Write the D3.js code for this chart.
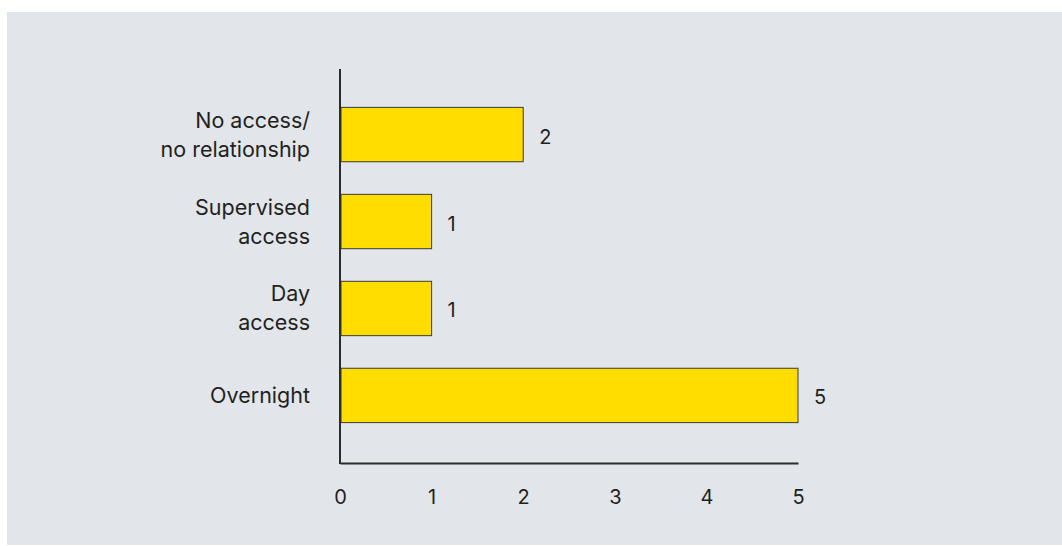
<!DOCTYPE html>
<html>
<head>
<meta charset="utf-8">
<script src="https://cdn.jsdelivr.net/npm/d3@7"></script>
<style>
  body { margin: 0; background: #ffffff; }
  svg text { font-family: "Inter", "Noto Sans", sans-serif; fill: #231f20; }
</style>
</head>
<body>
<div id="chart"></div>
<script>
// data
var categories = [["No access/", "no relationship"], ["Supervised", "access"], ["Day", "access"], ["Overnight"]];
var counts = [2, 1, 1, 5];
var xTicks = [0, 1, 2, 3, 4, 5];

var width = 1062,
    height = 546;

var margin = {
    top: 90,
    bottom: 83,
    left: 340,
    right: 264
}

var svg = d3.select('#chart')
    .append('svg')
    .attr('width', width)
    .attr('height', height);

// grey panel behind the chart
svg.append('rect')
    .attr('x', 7)
    .attr('y', 12)
    .attr('width', width - 7)
    .attr('height', height - 13)
    .attr('fill', '#e2e6ea');

var g = svg.append('g')
    .attr('transform', 'translate(' + margin.left + ',' + 0 + ')');

var plotW = width - margin.left - margin.right;

var x_scale = d3.scaleLinear()
    .domain([0, 5])
    .range([0, plotW]);

var y_scale = d3.scaleBand()
    .domain(categories.map(function (d, i) { return i; }))
    .range([90, 440])
    .paddingInner(0.375)
    .paddingOuter(0.2);

// bars
g.selectAll('.bar')
    .data(counts)
    .enter()
    .append('rect')
    .attr('class', 'bar')
    .attr('x', x_scale(0) + 1)
    .attr('y', function (d, i) { return y_scale(i); })
    .attr('width', function (d) { return x_scale(d) - x_scale(0) - 1; })
    .attr('height', y_scale.bandwidth())
    .attr('fill', '#ffdd00')
    .attr('stroke', '#3a3a3a')
    .attr('stroke-width', 1);

// value labels
g.selectAll('.val')
    .data(counts)
    .enter()
    .append('text')
    .attr('class', 'val')
    .attr('x', function (d) { return x_scale(d) + 16; })
    .attr('y', function (d, i) { return y_scale(i) + y_scale.bandwidth() / 2 + 2; })
    .attr('dy', '0.35em')
    .style('font-size', '20px')
    .text(function (d) { return d; });

// category labels (wrapped)
var lab = g.selectAll('.cat')
    .data(categories)
    .enter()
    .append('text')
    .attr('class', 'cat')
    .attr('text-anchor', 'end')
    .style('font-size', '21.5px')
    .attr('x', -30)
    .attr('y', function (d, i) { return y_scale(i) + y_scale.bandwidth() / 2; });

lab.each(function (lines) {
    var t = d3.select(this);
    var first = -(lines.length - 1) / 2 * 29;
    lines.forEach(function (l, k) {
        t.append('tspan')
            .attr('x', -30)
            .attr('dy', k === 0 ? (first + 7.5) : 29)
            .text(l);
    });
});

// axes
var xAxisY = 463;
var x_axis = d3.axisBottom(x_scale)
    .tickValues(xTicks)
    .tickSize(0)
    .tickPadding(27)
    .tickFormat(d3.format('d'));

var xg = g.append('g')
    .attr('class', 'x axis')
    .attr('transform', 'translate(0,' + xAxisY + ')')
    .call(x_axis);
xg.select('.domain').attr('stroke', '#2b2b2b').attr('stroke-width', 2);
xg.selectAll('text').style('font-size', '20px').style('font-family', '"Inter", "Noto Sans", sans-serif').attr('fill', '#231f20');

g.append('line')
    .attr('x1', 0)
    .attr('x2', 0)
    .attr('y1', 69)
    .attr('y2', xAxisY + 1)
    .attr('stroke', '#2b2b2b')
    .attr('stroke-width', 2);
</script>
</body>
</html>
